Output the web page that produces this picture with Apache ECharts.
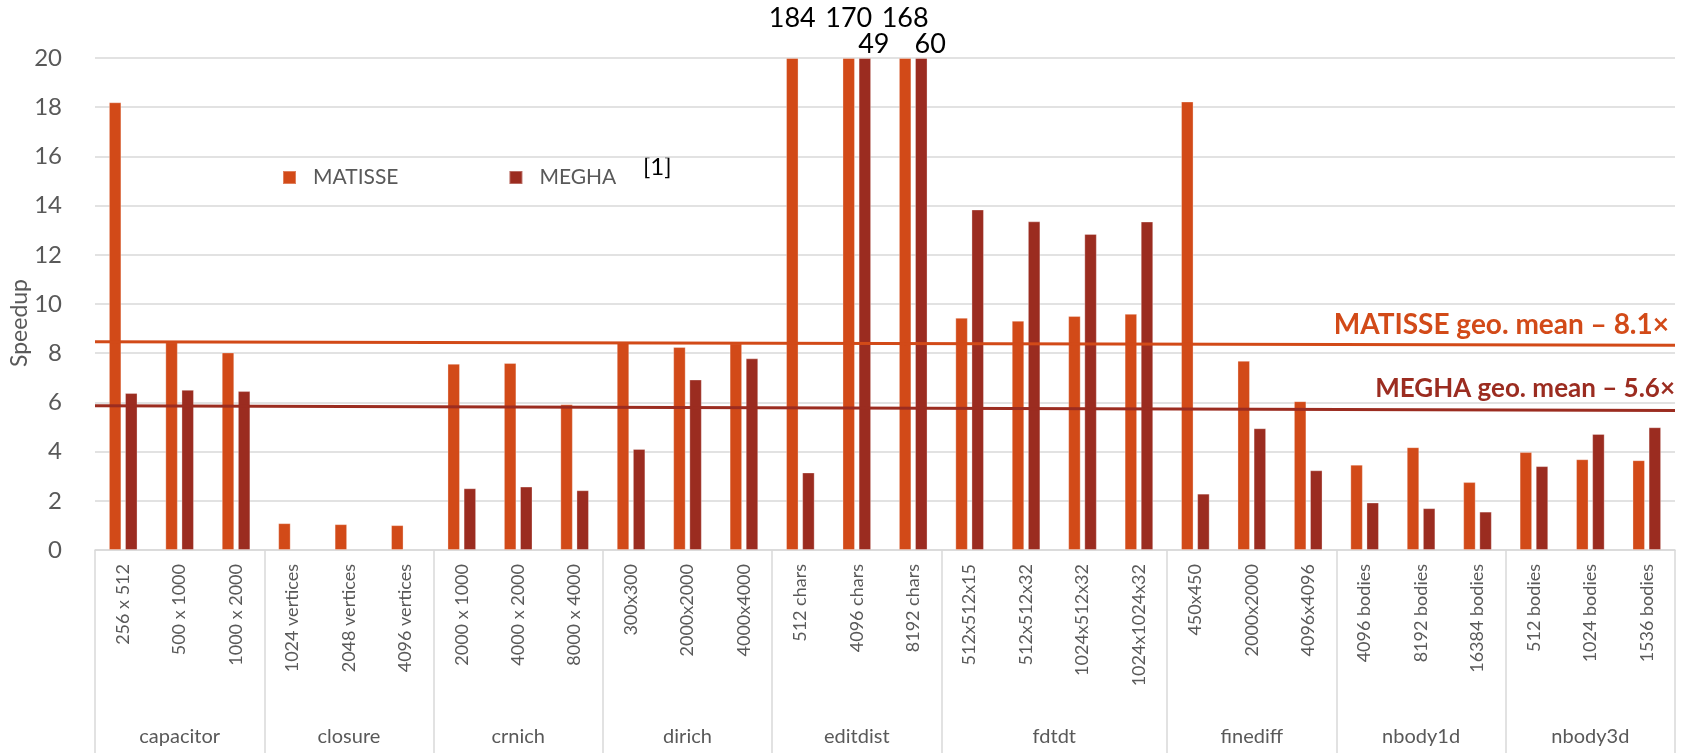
<!DOCTYPE html>
<html>
<head>
<meta charset="utf-8">
<script src="https://cdn.jsdelivr.net/npm/echarts@6/dist/echarts.min.js"></script>
<style>
  html, body { margin: 0; padding: 0; background: #fff; }
  #chart { width: 1688px; height: 753px; }
</style>
</head>
<body>
<div id="chart"></div>
<script>
// benchmark groups and their input sizes
const groups = ['capacitor', 'closure', 'crnich', 'dirich', 'editdist', 'fdtdt', 'finediff', 'nbody1d', 'nbody3d'];
const groupSizes = [3, 3, 3, 3, 3, 4, 3, 3, 3];
const categories = [
  '256 x 512', '500 x 1000', '1000 x 2000',
  '1024 vertices', '2048 vertices', '4096 vertices',
  '2000 x 1000', '4000 x 2000', '8000 x 4000',
  '300x300', '2000x2000', '4000x4000',
  '512 chars', '4096 chars', '8192 chars',
  '512x512x15', '512x512x32', '1024x512x32', '1024x1024x32',
  '450x450', '2000x2000', '4096x4096',
  '4096 bodies', '8192 bodies', '16384 bodies',
  '512 bodies', '1024 bodies', '1536 bodies'
];

// speedups (values above the axis max are clipped and labelled)
const matisse = [18.2, 8.45, 8.03, 1.09, 1.05, 1.01, 7.57, 7.6, 5.92, 8.45, 8.25, 8.4,
  184, 170, 168, 9.44, 9.32, 9.51, 9.6, 18.23, 7.69, 6.05, 3.47, 4.18, 2.76, 3.98, 3.69, 3.65];
const megha = [6.38, 6.51, 6.46, null, null, null, 2.51, 2.58, 2.43, 4.11, 6.93, 7.79,
  3.15, 49, 60, 13.84, 13.36, 12.85, 13.35, 2.29, 4.95, 3.24, 1.93, 1.7, 1.56, 3.41, 4.72, 4.99];

// geometric means and the drawn mean lines (start, end)
const geoMean = [8.1, 5.6];
const matisseMeanLine = [8.47, 8.32];
const meghaMeanLine = [5.86, 5.67];

const yMax = 20;
const yInterval = 2;

const colors = { matisse: '#D24A18', megha: '#9B2C20', grid: '#D9D9D9', text: '#595959' };
const font = 'Lato, "Open Sans", sans-serif';

// second axis: half-category slots so group names can sit in the middle of each group
const slots = categories.length * 2 + 1;
const groupAxisData = Array.from({ length: slots }, (_, i) => String(i));
const groupLabelAt = {};
const boundaries = new Set([slots - 1]);
let start = 0;
groups.forEach((g, k) => {
  boundaries.add(start * 2);
  groupLabelAt[start * 2 + groupSizes[k]] = g;
  start += groupSizes[k];
});

const clipData = (arr) => arr.map((v) => (v == null ? null : { value: Math.min(v, yMax), actual: v }));
const overLabel = (p) => (p.data && p.data.actual > yMax ? String(p.data.actual) : '');

const chart = echarts.init(document.getElementById('chart'));

const option = {
  animation: false,
  textStyle: { fontFamily: font },
  grid: { left: 95, right: 13, top: 58, bottom: 203, containLabel: false, outerBoundsMode: 'none' },
  legend: {
    data: ['MATISSE', 'MEGHA'],
    left: 277,
    top: 162,
    icon: 'rect',
    itemWidth: 13,
    itemHeight: 13,
    itemGap: 110,
    textStyle: { fontSize: 21, color: colors.text, fontFamily: font, padding: [0, 0, 0, 12] }
  },
  graphic: [{
    type: 'text',
    left: 643,
    top: 155,
    style: { text: '[1]', fontSize: 24, fill: '#000', fontFamily: font }
  }],
  xAxis: [
    {
      type: 'category',
      data: categories.map((c, i) => i + '|' + c),
      position: 'bottom',
      axisLine: { show: true, lineStyle: { color: colors.grid, width: 1.5 } },
      axisTick: { show: false },
      axisLabel: {
        interval: 0,
        rotate: 90,
        margin: 14,
        fontSize: 18,
        color: colors.text,
        fontFamily: font,
        formatter: (v) => v.split('|')[1]
      }
    },
    {
      type: 'category',
      data: groupAxisData,
      position: 'bottom',
      boundaryGap: false,
      axisLine: { show: false },
      axisTick: {
        show: true,
        length: 210,
        interval: (i) => boundaries.has(i),
        lineStyle: { color: colors.grid, width: 1.5 }
      },
      axisLabel: {
        interval: (i) => groupLabelAt[i] !== undefined,
        margin: 177,
        fontSize: 20,
        color: colors.text,
        fontFamily: font,
        formatter: (v) => groupLabelAt[v] || ''
      }
    },
    { type: 'value', min: 0, max: 1, show: false, position: 'top' }
  ],
  yAxis: {
    type: 'value',
    min: 0,
    max: yMax,
    interval: yInterval,
    name: 'Speedup',
    nameLocation: 'middle',
    nameGap: 64,
    nameMoveOverlap: false,
    nameTextStyle: { fontSize: 23, color: colors.text, fontFamily: font, padding: [0, 38, 0, 0] },
    axisLine: { show: false },
    axisTick: { show: false },
    axisLabel: { fontSize: 24, color: colors.text, margin: 33, fontFamily: font },
    splitLine: { lineStyle: { color: colors.grid, width: 1.5 } }
  },
  series: [
    {
      name: 'MATISSE',
      type: 'bar',
      xAxisIndex: 0,
      data: clipData(matisse),
      barWidth: 12.5,
      barGap: '29%',
      itemStyle: { color: colors.matisse, borderColor: 'rgba(255,255,255,0.3)', borderWidth: 1 },
      label: {
        show: true,
        position: 'top',
        distance: 26,
        fontSize: 27,
        color: '#000',
        fontFamily: font,
        formatter: overLabel
      }
    },
    {
      name: 'MEGHA',
      type: 'bar',
      xAxisIndex: 0,
      data: clipData(megha),
      barWidth: 12.5,
      barGap: '29%',
      itemStyle: { color: colors.megha, borderColor: 'rgba(255,255,255,0.3)', borderWidth: 1 },
      label: {
        show: true,
        position: 'top',
        distance: 0,
        offset: [9, 0],
        fontSize: 27,
        color: '#000',
        fontFamily: font,
        formatter: overLabel
      }
    },
    {
      name: 'MATISSE mean',
      type: 'line',
      xAxisIndex: 2,
      data: [[0, matisseMeanLine[0]], [1, matisseMeanLine[1]]],
      symbol: 'none',
      silent: true,
      lineStyle: { color: colors.matisse, width: 3 },
      endLabel: {
        show: true,
        formatter: 'MATISSE geo. mean – ' + geoMean[0] + '×',
        align: 'right',
        verticalAlign: 'bottom',
        offset: [-14, -6],
        fontSize: 28,
        fontWeight: 'bold',
        color: colors.matisse,
        fontFamily: font
      }
    },
    {
      name: 'MEGHA mean',
      type: 'line',
      xAxisIndex: 2,
      data: [[0, meghaMeanLine[0]], [1, meghaMeanLine[1]]],
      symbol: 'none',
      silent: true,
      lineStyle: { color: colors.megha, width: 3 },
      endLabel: {
        show: true,
        formatter: 'MEGHA geo. mean – ' + geoMean[1] + '×',
        align: 'right',
        verticalAlign: 'bottom',
        offset: [-8, -9],
        fontSize: 26,
        fontWeight: 'bold',
        color: colors.megha,
        fontFamily: font
      }
    }
  ]
};

chart.setOption(option);
window.addEventListener('resize', () => chart.resize());
</script>
</body>
</html>
